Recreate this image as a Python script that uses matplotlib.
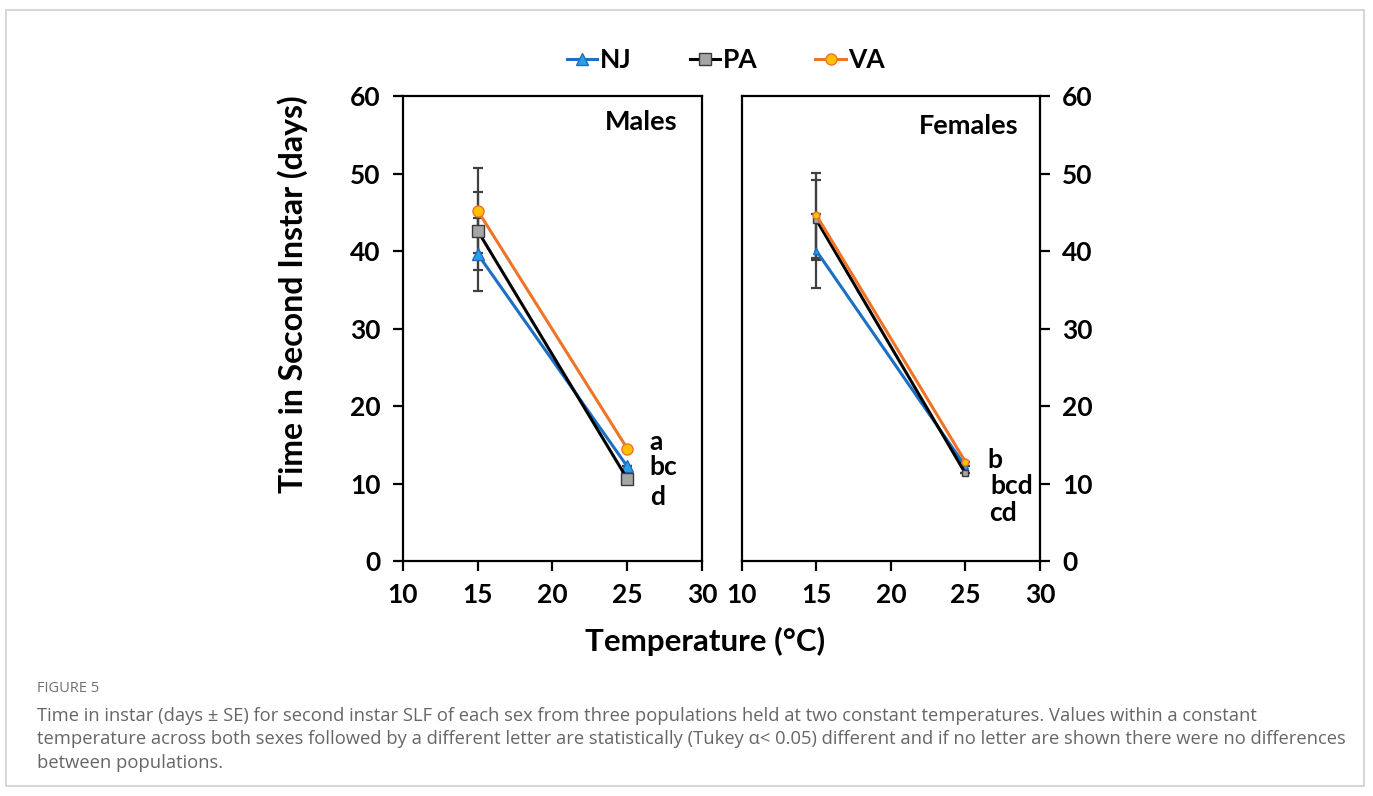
import matplotlib
matplotlib.use('Agg')
import matplotlib.pyplot as plt
from matplotlib.patches import Rectangle
from matplotlib.lines import Line2D

plt.rcParams['font.family'] = ['Lato', 'DejaVu Sans']
plt.rcParams['font.weight'] = 'bold'

# Data (days in second instar, mean and SE)
temps = [15, 25]
populations = ['NJ', 'PA', 'VA']

males_mean = {'NJ': [39.6, 12.2], 'PA': [42.6, 10.6], 'VA': [45.2, 14.5]}
males_se = {'NJ': [4.7, 0.0], 'PA': [5.0, 0.0], 'VA': [5.5, 0.0]}
females_mean = {'NJ': [40.0, 12.2], 'PA': [44.0, 11.3], 'VA': [44.6, 12.8]}
females_se = {'NJ': [4.8, 0.0], 'PA': [5.2, 0.0], 'VA': [5.5, 0.0]}

males_letters = ['a', 'bc', 'd']
males_letter_y = [15.4, 12.1, 8.3]
females_letters = ['b', 'bcd', 'cd']
females_letter_y = [13.0, 9.7, 6.2]
females_letter_x = [26.5, 26.7, 26.6]

styles = {
    'NJ': dict(color='#1B6FC4', marker='^', mfc='#2B9FE6', mec='#1B6FC4'),
    'PA': dict(color='#000000', marker='s', mfc='#A6A6A6', mec='#3A3A3A'),
    'VA': dict(color='#F07428', marker='o', mfc='#FFC000', mec='#F07428'),
}

FS = 19

fig = plt.figure(figsize=(13.73, 7.96), dpi=100)

# light frame around the whole figure
fig.patches.append(Rectangle((6 / 1373, 10 / 796), 1358 / 1373, 776 / 796,
                             transform=fig.transFigure, fill=False,
                             edgecolor='#d0d0d0', linewidth=1.2))

ax1 = fig.add_axes([0.2935, 0.2952, 0.2178, 0.5842])
ax2 = fig.add_axes([0.5404, 0.2952, 0.2170, 0.5842])


def draw_panel(ax, means, ses, msize):
    for pop in populations:
        ax.errorbar(temps, means[pop], yerr=ses[pop], fmt='none',
                    ecolor='#404040', elinewidth=1.6, capsize=3.5,
                    capthick=1.6, zorder=2)
    for pop in populations:
        st = styles[pop]
        ax.plot(temps, means[pop], color=st['color'], linewidth=2.2,
                marker=st['marker'], markersize=msize,
                markerfacecolor=st['mfc'], markeredgecolor=st['mec'],
                markeredgewidth=1.0, zorder=3)
    ax.set_xlim(10, 30)
    ax.set_ylim(0, 60)
    ax.set_xticks([10, 15, 20, 25, 30])
    ax.set_yticks(range(0, 61, 10))
    for sp in ax.spines.values():
        sp.set_linewidth(1.6)
    ax.tick_params(direction='out', length=7, width=1.6, labelsize=FS)
    ax.tick_params(axis='x', pad=9)
    ax.tick_params(axis='y', pad=9)
    for lab in ax.get_xticklabels() + ax.get_yticklabels():
        lab.set_fontweight('bold')


draw_panel(ax1, males_mean, males_se, 8)
draw_panel(ax2, females_mean, females_se, 5)

ax2.yaxis.tick_right()

ax1.text(25.9, 56.6, 'Males', ha='center', va='center', fontsize=FS + 0.5,
         fontweight='bold')
ax2.text(25.2, 56.1, 'Females', ha='center', va='center', fontsize=FS + 0.5,
         fontweight='bold')

for lab, y in zip(males_letters, males_letter_y):
    ax1.text(26.5, y, lab, ha='left', va='center', fontsize=FS,
             fontweight='bold')
for lab, x, y in zip(females_letters, females_letter_x, females_letter_y):
    ax2.text(x, y, lab, ha='left', va='center', fontsize=FS,
             fontweight='bold')

fig.text(293 / 1373, 1 - 294 / 796, 'Time in Second Instar (days)',
         rotation=90, ha='center', va='center', fontsize=23,
         fontweight='bold')
fig.text(705 / 1373, 1 - 641 / 796, 'Temperature (°C)', ha='center',
         va='center', fontsize=22.5, fontweight='bold')

# legend
handles = []
for pop in populations:
    st = styles[pop]
    handles.append(Line2D([], [], color=st['color'], linewidth=2.2,
                          marker=st['marker'], markersize=8,
                          markerfacecolor=st['mfc'],
                          markeredgecolor=st['mec'], label=pop))
fig.legend(handles=handles, loc='center', bbox_to_anchor=(726 / 1373, 1 - 60 / 796),
           ncol=3, frameon=False, handlelength=1.15,
           handletextpad=0.1, columnspacing=2.2,
           prop={'weight': 'bold', 'size': FS})

# caption
cap_font = ['Open Sans', 'DejaVu Sans']
fig.text(37 / 1373, 1 - 689 / 796, 'FIGURE 5', ha='left', va='center',
         fontsize=10.5, color='#707070', family=cap_font, fontweight='normal')
cap_lines = [
    'Time in instar (days ± SE) for second instar SLF of each sex from three populations held at two constant temperatures. Values within a constant',
    'temperature across both sexes followed by a different letter are statistically (Tukey α< 0.05) different and if no letter are shown there were no differences',
    'between populations.',
]
for i, line in enumerate(cap_lines):
    fig.text(37 / 1373, 1 - (716 + 23.5 * i) / 796, line, ha='left',
             va='center', fontsize=13.2, color='#666666', family=cap_font,
             fontweight='normal')

fig.savefig('out.png', dpi=100)
